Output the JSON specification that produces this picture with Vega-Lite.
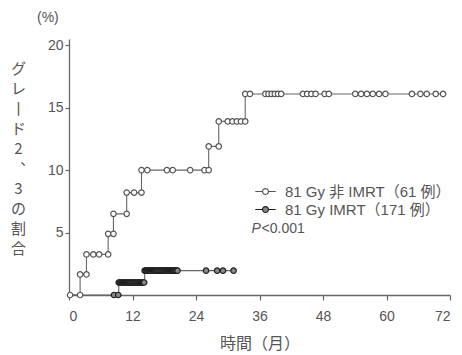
{
  "$schema": "https://vega.github.io/schema/vega-lite/v6.json",
  "autosize": "none",
  "width": 381,
  "height": 256,
  "padding": {"left": 69, "top": 39, "right": 12, "bottom": 60},
  "background": "white",
  "title": {"text": "(%)", "anchor": "start", "frame": "group", "dx": -32, "offset": 13, "fontSize": 14, "fontWeight": "normal", "color": "#555", "font": "Liberation Sans"},
  "config": {
    "view": {"stroke": null},
    "font": "Liberation Sans, Noto Sans CJK JP, sans-serif",
    "axis": {"grid": false, "domainColor": "#666", "tickColor": "#666", "labelColor": "#555", "titleColor": "#555", "labelFontSize": 14, "domainWidth": 1.3, "tickWidth": 1.2, "titleFontWeight": "normal"}
  },
  "datasets": {
    "steps": [
      {"series": "81 Gy 非 IMRT（61 例）", "month": 0, "pct": 0},
      {"series": "81 Gy 非 IMRT（61 例）", "month": 2.1, "pct": 1.65},
      {"series": "81 Gy 非 IMRT（61 例）", "month": 3.3, "pct": 3.25},
      {"series": "81 Gy 非 IMRT（61 例）", "month": 7.4, "pct": 4.9},
      {"series": "81 Gy 非 IMRT（61 例）", "month": 8.4, "pct": 6.5},
      {"series": "81 Gy 非 IMRT（61 例）", "month": 10.9, "pct": 8.2},
      {"series": "81 Gy 非 IMRT（61 例）", "month": 13.7, "pct": 10.0},
      {"series": "81 Gy 非 IMRT（61 例）", "month": 26.4, "pct": 11.9},
      {"series": "81 Gy 非 IMRT（61 例）", "month": 28.3, "pct": 13.9},
      {"series": "81 Gy 非 IMRT（61 例）", "month": 33.3, "pct": 16.1},
      {"series": "81 Gy 非 IMRT（61 例）", "month": 70.7, "pct": 16.1},
      {"series": "81 Gy IMRT（171 例）", "month": 0, "pct": 0},
      {"series": "81 Gy IMRT（171 例）", "month": 9.4, "pct": 1.0},
      {"series": "81 Gy IMRT（171 例）", "month": 14.3, "pct": 1.95},
      {"series": "81 Gy IMRT（171 例）", "month": 31.1, "pct": 1.95}
    ],
    "marks": [
      {"series": "81 Gy 非 IMRT（61 例）", "month": 0.2, "pct": 0},
      {"series": "81 Gy 非 IMRT（61 例）", "month": 2.1, "pct": 0},
      {"series": "81 Gy 非 IMRT（61 例）", "month": 2.1, "pct": 1.65},
      {"series": "81 Gy 非 IMRT（61 例）", "month": 3.3, "pct": 1.65},
      {"series": "81 Gy 非 IMRT（61 例）", "month": 3.3, "pct": 3.25},
      {"series": "81 Gy 非 IMRT（61 例）", "month": 4.6, "pct": 3.25},
      {"series": "81 Gy 非 IMRT（61 例）", "month": 5.7, "pct": 3.25},
      {"series": "81 Gy 非 IMRT（61 例）", "month": 7.4, "pct": 3.25},
      {"series": "81 Gy 非 IMRT（61 例）", "month": 7.4, "pct": 4.9},
      {"series": "81 Gy 非 IMRT（61 例）", "month": 8.4, "pct": 4.9},
      {"series": "81 Gy 非 IMRT（61 例）", "month": 8.4, "pct": 6.5},
      {"series": "81 Gy 非 IMRT（61 例）", "month": 10.9, "pct": 6.5},
      {"series": "81 Gy 非 IMRT（61 例）", "month": 10.9, "pct": 8.2},
      {"series": "81 Gy 非 IMRT（61 例）", "month": 12.3, "pct": 8.2},
      {"series": "81 Gy 非 IMRT（61 例）", "month": 13.7, "pct": 8.2},
      {"series": "81 Gy 非 IMRT（61 例）", "month": 13.7, "pct": 10.0},
      {"series": "81 Gy 非 IMRT（61 例）", "month": 14.8, "pct": 10.0},
      {"series": "81 Gy 非 IMRT（61 例）", "month": 18.5, "pct": 10.0},
      {"series": "81 Gy 非 IMRT（61 例）", "month": 19.6, "pct": 10.0},
      {"series": "81 Gy 非 IMRT（61 例）", "month": 22.9, "pct": 10.0},
      {"series": "81 Gy 非 IMRT（61 例）", "month": 25.6, "pct": 10.0},
      {"series": "81 Gy 非 IMRT（61 例）", "month": 26.4, "pct": 10.0},
      {"series": "81 Gy 非 IMRT（61 例）", "month": 26.4, "pct": 11.9},
      {"series": "81 Gy 非 IMRT（61 例）", "month": 28.3, "pct": 11.9},
      {"series": "81 Gy 非 IMRT（61 例）", "month": 28.3, "pct": 13.9},
      {"series": "81 Gy 非 IMRT（61 例）", "month": 30.0, "pct": 13.9},
      {"series": "81 Gy 非 IMRT（61 例）", "month": 30.9, "pct": 13.9},
      {"series": "81 Gy 非 IMRT（61 例）", "month": 31.7, "pct": 13.9},
      {"series": "81 Gy 非 IMRT（61 例）", "month": 32.5, "pct": 13.9},
      {"series": "81 Gy 非 IMRT（61 例）", "month": 33.3, "pct": 13.9},
      {"series": "81 Gy 非 IMRT（61 例）", "month": 33.3, "pct": 16.1},
      {"series": "81 Gy 非 IMRT（61 例）", "month": 34.2, "pct": 16.1},
      {"series": "81 Gy 非 IMRT（61 例）", "month": 37.1, "pct": 16.1},
      {"series": "81 Gy 非 IMRT（61 例）", "month": 37.7, "pct": 16.1},
      {"series": "81 Gy 非 IMRT（61 例）", "month": 38.3, "pct": 16.1},
      {"series": "81 Gy 非 IMRT（61 例）", "month": 38.9, "pct": 16.1},
      {"series": "81 Gy 非 IMRT（61 例）", "month": 39.5, "pct": 16.1},
      {"series": "81 Gy 非 IMRT（61 例）", "month": 40.1, "pct": 16.1},
      {"series": "81 Gy 非 IMRT（61 例）", "month": 44.2, "pct": 16.1},
      {"series": "81 Gy 非 IMRT（61 例）", "month": 45.0, "pct": 16.1},
      {"series": "81 Gy 非 IMRT（61 例）", "month": 45.8, "pct": 16.1},
      {"series": "81 Gy 非 IMRT（61 例）", "month": 46.6, "pct": 16.1},
      {"series": "81 Gy 非 IMRT（61 例）", "month": 48.3, "pct": 16.1},
      {"series": "81 Gy 非 IMRT（61 例）", "month": 49.1, "pct": 16.1},
      {"series": "81 Gy 非 IMRT（61 例）", "month": 54.1, "pct": 16.1},
      {"series": "81 Gy 非 IMRT（61 例）", "month": 55.2, "pct": 16.1},
      {"series": "81 Gy 非 IMRT（61 例）", "month": 56.3, "pct": 16.1},
      {"series": "81 Gy 非 IMRT（61 例）", "month": 57.4, "pct": 16.1},
      {"series": "81 Gy 非 IMRT（61 例）", "month": 58.6, "pct": 16.1},
      {"series": "81 Gy 非 IMRT（61 例）", "month": 59.8, "pct": 16.1},
      {"series": "81 Gy 非 IMRT（61 例）", "month": 64.8, "pct": 16.1},
      {"series": "81 Gy 非 IMRT（61 例）", "month": 66.4, "pct": 16.1},
      {"series": "81 Gy 非 IMRT（61 例）", "month": 67.6, "pct": 16.1},
      {"series": "81 Gy 非 IMRT（61 例）", "month": 69.3, "pct": 16.1},
      {"series": "81 Gy 非 IMRT（61 例）", "month": 70.7, "pct": 16.1},
      {"series": "81 Gy IMRT（171 例）", "month": 8.5, "pct": 0},
      {"series": "81 Gy IMRT（171 例）", "month": 9.3, "pct": 0},
      {"series": "81 Gy IMRT（171 例）", "month": 9.4, "pct": 1.0},
      {"series": "81 Gy IMRT（171 例）", "month": 9.6, "pct": 1.0},
      {"series": "81 Gy IMRT（171 例）", "month": 9.8, "pct": 1.0},
      {"series": "81 Gy IMRT（171 例）", "month": 10.0, "pct": 1.0},
      {"series": "81 Gy IMRT（171 例）", "month": 10.2, "pct": 1.0},
      {"series": "81 Gy IMRT（171 例）", "month": 10.4, "pct": 1.0},
      {"series": "81 Gy IMRT（171 例）", "month": 10.6, "pct": 1.0},
      {"series": "81 Gy IMRT（171 例）", "month": 10.8, "pct": 1.0},
      {"series": "81 Gy IMRT（171 例）", "month": 11.0, "pct": 1.0},
      {"series": "81 Gy IMRT（171 例）", "month": 11.2, "pct": 1.0},
      {"series": "81 Gy IMRT（171 例）", "month": 11.4, "pct": 1.0},
      {"series": "81 Gy IMRT（171 例）", "month": 11.6, "pct": 1.0},
      {"series": "81 Gy IMRT（171 例）", "month": 11.8, "pct": 1.0},
      {"series": "81 Gy IMRT（171 例）", "month": 12.0, "pct": 1.0},
      {"series": "81 Gy IMRT（171 例）", "month": 12.2, "pct": 1.0},
      {"series": "81 Gy IMRT（171 例）", "month": 12.4, "pct": 1.0},
      {"series": "81 Gy IMRT（171 例）", "month": 12.6, "pct": 1.0},
      {"series": "81 Gy IMRT（171 例）", "month": 12.8, "pct": 1.0},
      {"series": "81 Gy IMRT（171 例）", "month": 13.0, "pct": 1.0},
      {"series": "81 Gy IMRT（171 例）", "month": 13.2, "pct": 1.0},
      {"series": "81 Gy IMRT（171 例）", "month": 13.4, "pct": 1.0},
      {"series": "81 Gy IMRT（171 例）", "month": 13.6, "pct": 1.0},
      {"series": "81 Gy IMRT（171 例）", "month": 13.8, "pct": 1.0},
      {"series": "81 Gy IMRT（171 例）", "month": 14.0, "pct": 1.0},
      {"series": "81 Gy IMRT（171 例）", "month": 14.2, "pct": 1.0},
      {"series": "81 Gy IMRT（171 例）", "month": 14.3, "pct": 1.95},
      {"series": "81 Gy IMRT（171 例）", "month": 14.5, "pct": 1.95},
      {"series": "81 Gy IMRT（171 例）", "month": 14.7, "pct": 1.95},
      {"series": "81 Gy IMRT（171 例）", "month": 14.9, "pct": 1.95},
      {"series": "81 Gy IMRT（171 例）", "month": 15.1, "pct": 1.95},
      {"series": "81 Gy IMRT（171 例）", "month": 15.3, "pct": 1.95},
      {"series": "81 Gy IMRT（171 例）", "month": 15.5, "pct": 1.95},
      {"series": "81 Gy IMRT（171 例）", "month": 15.7, "pct": 1.95},
      {"series": "81 Gy IMRT（171 例）", "month": 15.9, "pct": 1.95},
      {"series": "81 Gy IMRT（171 例）", "month": 16.1, "pct": 1.95},
      {"series": "81 Gy IMRT（171 例）", "month": 16.3, "pct": 1.95},
      {"series": "81 Gy IMRT（171 例）", "month": 16.5, "pct": 1.95},
      {"series": "81 Gy IMRT（171 例）", "month": 16.7, "pct": 1.95},
      {"series": "81 Gy IMRT（171 例）", "month": 16.9, "pct": 1.95},
      {"series": "81 Gy IMRT（171 例）", "month": 17.1, "pct": 1.95},
      {"series": "81 Gy IMRT（171 例）", "month": 17.3, "pct": 1.95},
      {"series": "81 Gy IMRT（171 例）", "month": 17.5, "pct": 1.95},
      {"series": "81 Gy IMRT（171 例）", "month": 17.7, "pct": 1.95},
      {"series": "81 Gy IMRT（171 例）", "month": 17.9, "pct": 1.95},
      {"series": "81 Gy IMRT（171 例）", "month": 18.1, "pct": 1.95},
      {"series": "81 Gy IMRT（171 例）", "month": 18.3, "pct": 1.95},
      {"series": "81 Gy IMRT（171 例）", "month": 18.5, "pct": 1.95},
      {"series": "81 Gy IMRT（171 例）", "month": 18.7, "pct": 1.95},
      {"series": "81 Gy IMRT（171 例）", "month": 18.9, "pct": 1.95},
      {"series": "81 Gy IMRT（171 例）", "month": 19.1, "pct": 1.95},
      {"series": "81 Gy IMRT（171 例）", "month": 19.3, "pct": 1.95},
      {"series": "81 Gy IMRT（171 例）", "month": 19.5, "pct": 1.95},
      {"series": "81 Gy IMRT（171 例）", "month": 19.7, "pct": 1.95},
      {"series": "81 Gy IMRT（171 例）", "month": 19.9, "pct": 1.95},
      {"series": "81 Gy IMRT（171 例）", "month": 20.1, "pct": 1.95},
      {"series": "81 Gy IMRT（171 例）", "month": 20.3, "pct": 1.95},
      {"series": "81 Gy IMRT（171 例）", "month": 20.5, "pct": 1.95},
      {"series": "81 Gy IMRT（171 例）", "month": 25.9, "pct": 1.95},
      {"series": "81 Gy IMRT（171 例）", "month": 28.0, "pct": 1.95},
      {"series": "81 Gy IMRT（171 例）", "month": 29.1, "pct": 1.95},
      {"series": "81 Gy IMRT（171 例）", "month": 31.1, "pct": 1.95}
    ]
  },
  "layer": [
    {
      "data": {"name": "steps"},
      "mark": {"type": "line", "interpolate": "step-after", "stroke": "#666", "strokeWidth": 1.1},
      "encoding": {
        "x": {"field": "month", "type": "quantitative", "scale": {"domain": [0, 72], "nice": false},
          "axis": {"values": [0, 12, 24, 36, 48, 60, 72], "tickSize": 5, "labelPadding": 9, "title": "時間（月）", "titleFontSize": 16, "titleFont": "Noto Sans CJK JP", "titleBaseline": "middle", "titleY": 48}},
        "y": {"field": "pct", "type": "quantitative", "scale": {"domain": [0, 20.5], "nice": false},
          "axis": {"values": [5, 10, 15, 20], "tickSize": 4, "labelPadding": 2,
            "title": ["グ", "レ", "丨", "ド", "2", "︑", "3", "の", "割", "合"],
            "titleAngle": 0, "titleFontSize": 15, "titleFont": "Noto Sans CJK JP", "titleLineHeight": 20, "titleAlign": "center", "titleBaseline": "top", "titleX": -51, "titleY": 22}},
        "detail": {"field": "series"}
      }
    },
    {
      "data": {"name": "marks"},
      "mark": {"type": "point", "shape": "circle", "filled": true, "opacity": 1, "size": 30, "strokeWidth": 1.2},
      "encoding": {
        "x": {"field": "month", "type": "quantitative"},
        "y": {"field": "pct", "type": "quantitative"},
        "fill": {"field": "series", "type": "nominal",
          "scale": {"domain": ["81 Gy 非 IMRT（61 例）", "81 Gy IMRT（171 例）"], "range": ["#ffffff", "#888888"]},
          "legend": {"title": null, "orient": "none", "legendX": 187, "legendY": 143, "symbolType": "M-1.2,0H-0.35M0.35,0H1.2M-0.35,0A0.35,0.35 0 1,0 0.35,0A0.35,0.35 0 1,0 -0.35,0Z", "symbolSize": 289, "symbolStrokeWidth": 1.2, "labelFontSize": 15, "labelColor": "#555", "labelFont": "Liberation Sans, Noto Sans CJK JP", "labelOffset": 10, "rowPadding": 0, "labelLimit": 300}},
        "stroke": {"field": "series", "type": "nominal",
          "scale": {"domain": ["81 Gy 非 IMRT（61 例）", "81 Gy IMRT（171 例）"], "range": ["#555555", "#1e1e1e"]},
          "legend": {"title": null, "orient": "none", "legendX": 187, "legendY": 143, "symbolType": "M-1.2,0H-0.35M0.35,0H1.2M-0.35,0A0.35,0.35 0 1,0 0.35,0A0.35,0.35 0 1,0 -0.35,0Z", "symbolSize": 289, "symbolStrokeWidth": 1.2, "labelFontSize": 15, "labelColor": "#555", "labelFont": "Liberation Sans, Noto Sans CJK JP", "labelOffset": 10, "rowPadding": 0, "labelLimit": 300}}
      }
    },
    {
      "data": {"values": [{}]},
      "mark": {"type": "text", "text": "P", "fontStyle": "italic", "fontSize": 14, "align": "left", "baseline": "middle", "color": "#555", "font": "Liberation Sans"},
      "encoding": {"x": {"datum": 34.5}, "y": {"datum": 5.3}}
    },
    {
      "data": {"values": [{}]},
      "mark": {"type": "text", "text": "<0.001", "fontSize": 14, "align": "left", "baseline": "middle", "color": "#555", "font": "Liberation Sans", "dx": 10},
      "encoding": {"x": {"datum": 34.5}, "y": {"datum": 5.3}}
    }
  ]
}
